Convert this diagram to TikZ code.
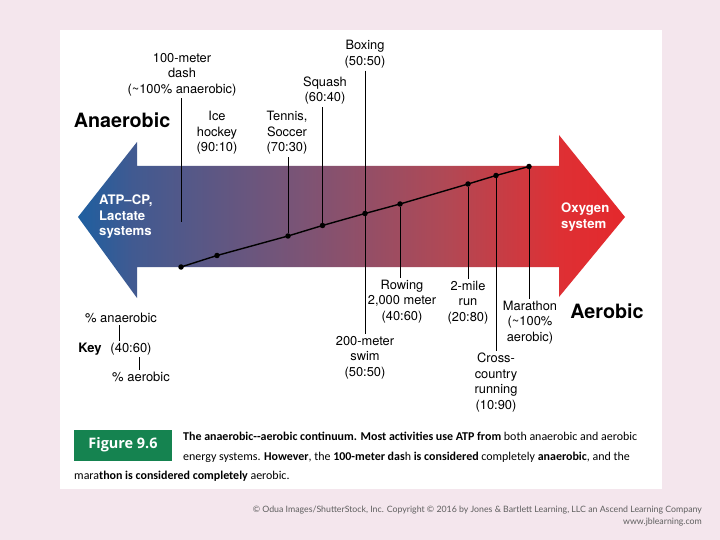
\documentclass[tikz,border=0pt]{standalone}
\usepackage{fontspec}
\setmainfont{TeX Gyre Heros}
\newfontfamily\captionfont{Carlito}
\newfontfamily\figfont{Open Sans}
\newfontfamily\creditfont{Lato}
\usetikzlibrary{positioning, calc}

\definecolor{pagepink}{RGB}{244,230,237}
\definecolor{figgreen}{RGB}{21,131,80}
\definecolor{tipblue}{RGB}{30,95,160}
\definecolor{neckblue}{RGB}{65,90,145}
\definecolor{midpurple}{RGB}{122,84,118}
\definecolor{warmred}{RGB}{178,72,84}
\definecolor{neckred}{RGB}{222,48,52}
\definecolor{tipred}{RGB}{228,40,44}
\definecolor{creditgray}{RGB}{95,95,95}

\pgfdeclarehorizontalshading{continuum}{100bp}{color(0bp)=(tipblue); color(25bp)=(tipblue); color(30bp)=(neckblue); color(45bp)=(midpurple); color(59bp)=(warmred); color(69bp)=(neckred); color(75bp)=(tipred); color(100bp)=(tipred)}

\begin{document}
\begin{tikzpicture}[x=1bp, y=-1bp]
    \tikzstyle{sport} = [align=center, inner sep=2pt, font=\fontsize{12.9}{15.7}\selectfont]
    \tikzstyle{side} = [inner sep=0pt, font=\bfseries\fontsize{19.8}{22}\selectfont]
    \tikzstyle{system} = [align=left, inner sep=0pt, text=white, font=\bfseries\fontsize{13.2}{15.5}\selectfont]
    \tikzstyle{keytext} = [inner sep=2pt, font=\fontsize{13}{15}\selectfont]
    \tikzstyle{captext} = [anchor=base west, inner sep=0pt, font=\captionfont\fontsize{12}{14}\selectfont]
    \tikzstyle{credit} = [anchor=base east, inner sep=0pt, text=creditgray, font=\creditfont\fontsize{8.8}{10}\selectfont]
    \tikzstyle{lead} = [line width=0.7bp]
    \tikzstyle{dot} = [circle, fill=black, inner sep=0pt, minimum size=5.5bp]

    \useasboundingbox (0,0) rectangle (720,540);
    \fill[pagepink] (0,0) rectangle (720,540);
    \fill[white] (60,30) rectangle (662,489);

    \shade[shading=continuum] (78,217) -- (137,142) -- (137,166) -- (559,166) -- (559,135) -- (625,217)
        -- (559,297) -- (559,267) -- (137,267) -- (137,298) -- cycle;

    \node[side] (anaerobic) at (122,120) {Anaerobic};
    \node[side] (aerobic) at (607,311) {Aerobic};
    \node[system, anchor=west] (atp) at (99,217) {ATP--CP,\\Lactate\\systems};
    \node[system, anchor=west] (oxygen) at (561,217) {Oxygen\\system};

    \node[dot] (d100) at (181,267) {};
    \node[dot] (dhockey) at (217,255.5) {};
    \node[dot] (dtennis) at (288,236) {};
    \node[dot] (dsquash) at (322.5,225.5) {};
    \node[dot] (dboxing) at (365,213.5) {};
    \node[dot] (drowing) at (400,204) {};
    \node[dot] (dmile) at (468,184) {};
    \node[dot] (dcross) at (496,175.5) {};
    \node[dot] (dmarathon) at (529,166.5) {};
    \draw[line width=1.4bp] (d100.center) -- (dhockey.center) -- (dtennis.center) -- (dsquash.center) -- (dboxing.center)
        -- (drowing.center) -- (dmile.center) -- (dcross.center) -- (dmarathon.center);

    \node[sport] (dash) at (182,74.5) {100-meter\\dash\\(\textasciitilde100\% anaerobic)};
    \node[sport] (boxing) at (365,54.5) {Boxing\\(50:50)};
    \node[sport] (squash) at (325,90.5) {Squash\\(60:40)};
    \node[sport] (hockey) at (217,133) {Ice\\hockey\\(90:10)};
    \node[sport] (tennis) at (287,133) {Tennis,\\Soccer\\(70:30)};
    \node[sport] (rowing) at (402,301.5) {Rowing\\2,000 meter\\(40:60)};
    \node[sport] (mile) at (468,302.5) {2-mile\\run\\(20:80)};
    \node[sport] (marathon) at (530,322.5) {Marathon\\(\textasciitilde100\%\\aerobic)};
    \node[sport] (swim) at (365,357.5) {200-meter\\swim\\(50:50)};
    \node[sport] (cross) at (496,382.5) {Cross-\\country\\running\\(10:90)};

    \coordinate (dashend) at (181,222);
    \draw[lead] (dash.south -| dashend) -- (dashend);
    \draw[lead] (dtennis) -- (dtennis |- tennis.south);
    \draw[lead] (dsquash) -- (dsquash |- squash.south);
    \draw[lead] (boxing.south -| dboxing) -- (dboxing);
    \draw[lead] (dboxing) -- (dboxing |- swim.north);
    \draw[lead] (drowing) -- (drowing |- rowing.north);
    \draw[lead] (dmile) -- (dmile |- mile.north);
    \draw[lead] (dcross) -- (dcross |- cross.north);
    \draw[lead] (dmarathon) -- (dmarathon |- marathon.north);

    \node[keytext] (keyana) at (121,318) {\% anaerobic};
    \node[keytext, font=\bfseries\fontsize{13}{15}\selectfont] (key) at (90,349) {Key};
    \node[keytext] (keyratio) at (131,349) {(40:60)};
    \node[keytext] (keyaer) at (141,377) {\% aerobic};
    \draw[lead] ([xshift=-2bp]keyana.south) -- ([xshift=-2bp]keyana.south |- keyratio.north);
    \draw[lead] ([xshift=-2bp]keyaer.north) -- ([xshift=-2bp]keyaer.north |- keyratio.south);

    \node[fill=figgreen, text=white, minimum width=98bp, minimum height=31bp, inner sep=0pt,
        font=\figfont\bfseries\fontsize{14.5}{16}\selectfont] (figure) at (123,445) {Figure 9.6};
    \node[captext] (cap1) at (183,440) {\textbf{The anaerobic--aerobic continuum. Most activities use ATP from} both anaerobic and aerobic};
    \node[captext] (cap2) at (183,460) {energy systems. \textbf{However}, the \textbf{100-meter das}h \textbf{is considered} completely \textbf{anaerobic}, and the};
    \node[captext] (cap3) at (74,479) {mara\textbf{thon is considered completely} aerobic.};

    \node[credit] (credit1) at (702,512) {\textcopyright{} Odua Images/ShutterStock, Inc. Copyright \textcopyright{} 2016 by Jones \& Bartlett Learning, LLC an Ascend Learning Company};
    \node[credit] (credit2) at (702,524) {www.jblearning.com};
\end{tikzpicture}
\end{document}
